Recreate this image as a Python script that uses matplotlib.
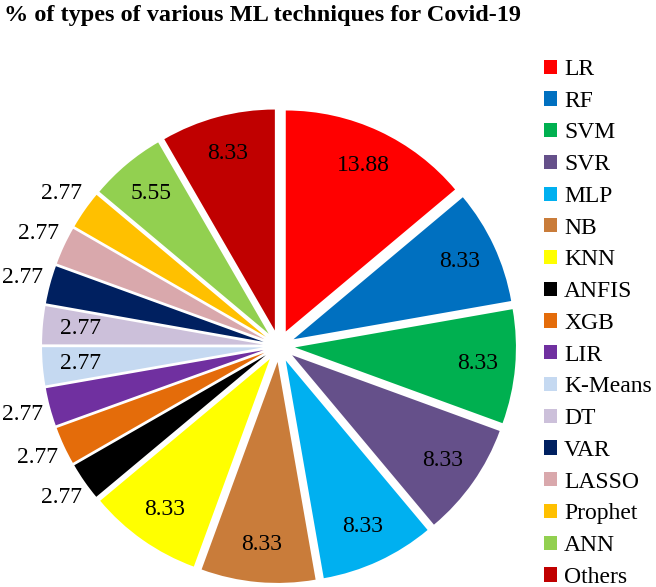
import matplotlib
matplotlib.use('Agg')
import matplotlib.pyplot as plt
import numpy as np

plt.rcParams['font.family'] = ['Liberation Serif', 'DejaVu Serif']

techniques = ['LR', 'RF', 'SVM', 'SVR', 'MLP', 'NB', 'KNN', 'ANFIS', 'XGB', 'LIR',
              'K-Means', 'DT', 'VAR', 'LASSO', 'Prophet', 'ANN', 'Others']
shares = [13.88, 8.33, 8.33, 8.33, 8.33, 8.33, 8.33, 2.77, 2.77, 2.77,
          2.77, 2.77, 2.77, 2.77, 2.77, 5.55, 8.33]
value_labels = ['13.88', '8.33', '8.33', '8.33', '8.33', '8.33', '8.33', '2.77', '2.77', '2.77',
                '2.77', '2.77', '2.77', '2.77', '2.77', '5.55', '8.33']
colors = ['#FF0000', '#0070C0', '#00B050', '#65508A', '#00B0F0', '#C97C3A', '#FFFF00',
          '#000000', '#E46C0A', '#7030A0', '#C5D9F1', '#CCC0DA', '#002060', '#D9A8AC',
          '#FFC000', '#92D050', '#C00000']
# labels of the thin slices sit outside, except K-Means and DT
outside = [False] * 7 + [True, True, True, False, False, True, True, True, False, False]

W, H = 656, 587
R = 221.0          # pie radius in px
cx, cy = 279, 346  # pie centre in px (from top-left)
expl = 16 / R

fig = plt.figure(figsize=(W / 100, H / 100), dpi=100)
ax = fig.add_axes([0, 0, 1, 1])

wedges, _ = ax.pie(shares, colors=colors, startangle=90, counterclock=False,
                   explode=[expl] * len(shares), radius=1.0)
ax.set_xlim(-cx / R, (W - cx) / R)
ax.set_ylim(-(H - cy) / R, cy / R)
ax.set_aspect('equal')
ax.axis('off')

for w, txt, out in zip(wedges, value_labels, outside):
    ang = np.deg2rad((w.theta1 + w.theta2) / 2)
    d = 1.13 if out else 0.83
    x = w.center[0] + d * np.cos(ang)
    y = w.center[1] + d * np.sin(ang)
    ax.text(x, y, txt, ha='center', va='center', fontsize=17)

fig.text(263 / W, 1 - 16 / H, '% of types of various ML techniques for Covid-19',
         ha='center', va='center', fontsize=17.5, fontweight='bold')

fig.legend(wedges, techniques, loc='upper left', bbox_to_anchor=(544 / W, 1 - 59 / H),
           frameon=False, fontsize=17, handlelength=0.55, handleheight=0.55,
           handletextpad=0.3, labelspacing=0.455, borderpad=0, borderaxespad=0)

fig.savefig('out.png', dpi=100)
